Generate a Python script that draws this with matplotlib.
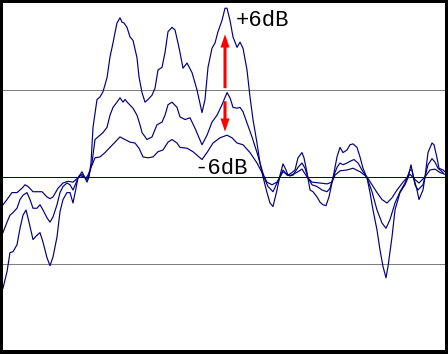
import numpy as np
import matplotlib
matplotlib.use("Agg")
import matplotlib.pyplot as plt
from matplotlib.patches import FancyArrowPatch

# Three response curves (dB): 0 dB, +6 dB and -6 dB versions

x_hi = [3, 7, 10, 13, 17, 20, 23, 26, 29, 33, 37, 40, 43, 47, 50, 53, 57, 60, 63, 67,
        70, 73, 76, 78, 82, 85, 87, 89, 91, 93, 97, 100, 103, 107, 110, 113, 115, 117, 120, 122,
        124, 127, 130, 133, 137, 139, 142, 145, 148, 152, 155, 158, 162, 165, 168, 172, 175, 178, 180, 183,
        187, 192, 197, 202, 205, 208, 212, 215, 218, 222, 225, 227, 230, 233, 237, 240, 243, 247, 250, 253,
        257, 260, 263, 267, 270, 273, 277, 280, 283, 286, 288, 292, 295, 298, 302, 304, 307, 310, 313, 317,
        320, 323, 326, 329, 333, 337, 340, 343, 347, 350, 353, 357, 360, 363, 367, 370, 373, 377, 380, 383,
        386, 388, 392, 395, 400, 405, 408, 411, 413, 417, 419, 423, 425, 428, 432, 434, 437, 439, 443, 445]
y_hi = [-12.8, -10.9, -8.7, -8.6, -7.8, -5.9, -4.4, -3.8, -5.2, -7.2, -6.7, -6.4, -7.5, -9.3, -10.2, -9.2, -6.9, -4.0, -2.6, -1.8,
        -1.8, -3.0, -1.3, -0.1, 0.6, -0.1, -0.6, 0.0, 1.6, 5.7, 8.9, 9.2, 9.8, 11.4, 13.8, 15.4, 16.6, 17.7, 18.3, 17.8,
        17.7, 17.2, 16.1, 15.7, 13.7, 11.5, 9.7, 8.6, 8.9, 9.4, 10.2, 12.3, 12.6, 14.3, 16.7, 17.2, 16.9, 15.4, 14.3, 12.5,
        13.1, 12.0, 10.0, 7.4, 8.9, 12.6, 14.8, 15.4, 16.7, 18.0, 19.4, 19.4, 18.0, 16.1, 14.9, 15.5, 14.8, 12.3, 9.2, 6.6,
        3.9, 1.6, 0.0, -1.8, -3.0, -3.4, -1.5, 0.2, 1.5, 0.8, 0.2, 0.5, 0.8, 2.2, 2.8, 2.2, 0.5, -1.5, -1.7, -2.3,
        -2.9, -3.2, -3.3, -2.3, -0.1, 2.3, 3.4, 2.8, 3.1, 3.7, 3.8, 3.4, 2.3, 1.0, -0.1, -1.8, -3.8, -6.1, -8.4, -10.3,
        -11.6, -10.3, -6.9, -3.8, -1.8, -0.9, -0.1, 1.4, 0.2, -1.5, -2.6, -1.5, 0.0, 2.8, 3.9, 3.7, 2.2, 1.0, 0.8, 0.6]

x_mid = [3, 7, 10, 13, 17, 20, 23, 27, 30, 33, 37, 40, 43, 47, 50, 53, 57, 60, 63, 67,
         70, 73, 76, 78, 82, 85, 87, 89, 92, 95, 98, 103, 107, 110, 113, 117, 120, 123, 125, 128,
         133, 137, 140, 142, 147, 152, 157, 162, 165, 168, 172, 177, 180, 185, 190, 195, 202, 207, 212, 217,
         222, 227, 230, 233, 237, 240, 243, 247, 252, 257, 262, 265, 268, 273, 277, 280, 283, 287, 293, 298,
         302, 305, 308, 312, 317, 322, 327, 330, 333, 337, 340, 343, 347, 350, 354, 358, 363, 367, 372, 377,
         382, 386, 390, 395, 400, 405, 410, 412, 415, 418, 423, 425, 428, 432, 435, 438, 443]
y_mid = [-6.4, -5.2, -4.4, -4.1, -3.6, -2.6, -2.1, -1.8, -2.6, -3.6, -3.6, -3.2, -3.8, -4.7, -5.2, -4.6, -3.2, -1.8, -1.1, -0.7,
         -0.9, -1.5, -0.7, -0.1, 0.3, -0.1, -0.3, 0.2, 1.6, 4.3, 4.6, 5.1, 5.7, 7.1, 8.0, 8.6, 9.1, 8.6, 8.9, 8.5,
         7.9, 7.1, 6.0, 5.1, 4.3, 4.6, 6.0, 6.3, 7.1, 8.3, 8.6, 8.0, 6.9, 6.6, 6.8, 5.6, 3.7, 4.8, 6.3, 7.1,
         8.3, 9.7, 9.1, 8.0, 7.9, 8.0, 7.5, 6.2, 4.6, 2.8, 0.8, -0.3, -1.1, -1.7, -0.7, 0.0, 0.8, 0.2, 0.2, 1.1,
         1.6, 1.0, -0.1, -0.9, -1.1, -1.5, -1.7, -1.3, -0.1, 1.1, 1.6, 1.4, 1.6, 1.8, 2.0, 1.6, 0.6, -0.1, -1.7, -3.8,
         -5.3, -5.9, -4.9, -3.0, -1.7, -0.7, 0.8, 0.8, -0.9, -1.5, -0.9, 0.0, 1.4, 2.1, 1.7, 1.0, 0.5]

x_lo = [3, 7, 12, 17, 22, 25, 28, 33, 38, 42, 47, 50, 53, 58, 63, 68, 73, 77, 80, 83,
        86, 88, 90, 95, 100, 105, 110, 115, 120, 125, 130, 135, 139, 143, 148, 153, 158, 163, 168, 172,
        177, 180, 187, 193, 202, 207, 213, 220, 227, 232, 237, 243, 250, 257, 262, 267, 272, 277, 280, 283,
        290, 298, 302, 307, 312, 320, 327, 332, 335, 340, 347, 353, 360, 367, 372, 377, 382, 387, 392, 397,
        403, 410, 415, 419, 425, 430, 435, 440, 445]
y_lo = [-3.2, -2.6, -1.8, -1.8, -1.3, -0.9, -1.1, -1.7, -1.7, -1.7, -2.3, -2.5, -2.3, -1.3, -0.7, -0.5, -0.6, -0.2, 0.2, 0.0,
        -0.1, 0.2, 0.8, 2.2, 2.3, 2.8, 3.4, 4.0, 4.6, 4.3, 4.0, 3.9, 3.3, 2.3, 2.2, 2.3, 2.9, 3.1, 4.0, 4.3,
        3.9, 3.4, 3.3, 2.9, 2.0, 2.8, 3.9, 4.5, 4.8, 4.5, 3.9, 3.7, 2.8, 1.6, 0.5, -0.6, -0.9, -0.6, 0.0, 0.6,
        0.1, 0.6, 0.9, 0.0, -0.6, -0.7, -0.8, -0.6, 0.2, 0.7, 0.8, 1.0, 0.6, 0.0, -0.9, -1.8, -2.6, -3.0, -2.4, -1.5,
        -0.6, 0.3, -0.3, -0.7, 0.0, 0.8, 0.9, 0.5, 0.3]

grid_db = [-10, 10]
labels = ["+6dB", "-6dB"]

navy = "#000080"

fig = plt.figure(figsize=(4.48, 3.54), dpi=100, facecolor="black")
ax = fig.add_axes([3 / 448, 4 / 354, 442 / 448, 347 / 354])
ax.set_facecolor("white")
ax.set_xlim(3, 445)
ax.set_ylim(-19.9, 20.0)
ax.set_xticks([])
ax.set_yticks([])
for s in ax.spines.values():
    s.set_visible(False)

for g in grid_db:
    ax.axhline(g, color="#7f7f7f", lw=0.72, antialiased=False, zorder=1)
ax.axhline(0, color=navy, lw=0.72, antialiased=False, zorder=1)

for xs, ys in [(x_hi, y_hi), (x_mid, y_mid), (x_lo, y_lo)]:
    ax.plot(xs, ys, color=navy, lw=0.85, zorder=2)

# red arrows at the main peak: 0 dB curve up to +6 dB, and down to -6 dB
px = 225
style = "simple,head_length=9.5,head_width=6.5,tail_width=2.2"
ax.add_patch(FancyArrowPatch((px, 10.2), (px, 16.4), arrowstyle=style,
                             color="red", lw=0, shrinkA=0, shrinkB=0, zorder=3))
ax.add_patch(FancyArrowPatch((px, 8.7), (px, 5.2), arrowstyle=style,
                             color="red", lw=0, shrinkA=0, shrinkB=0, zorder=3))

mono = ["Liberation Mono", "DejaVu Sans Mono"]
ax.text(236, 17.4, labels[0], family=mono, fontsize=16,
        va="baseline", ha="left", color="black")
ax.text(194, 0.35, labels[1], family=mono, fontsize=16,
        va="baseline", ha="left", color="black")

fig.savefig("out.png", dpi=100, facecolor="black")
